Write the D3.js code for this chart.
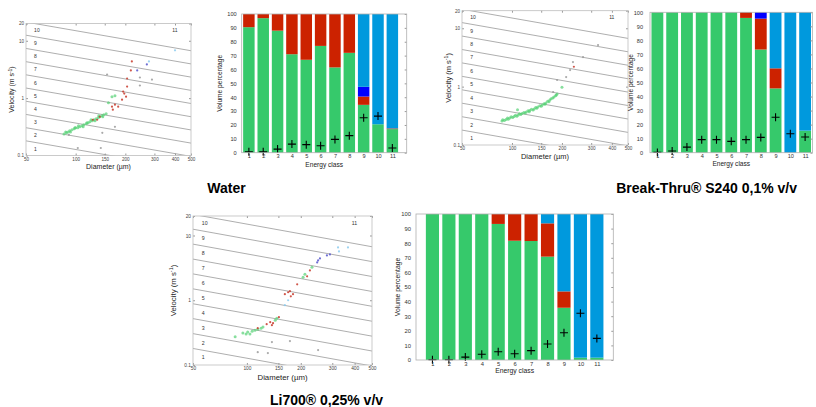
<!DOCTYPE html>
<html>
<head>
<meta charset="utf-8">
<script src="https://cdn.jsdelivr.net/npm/d3@7"></script>
<style>
  body { margin: 0; background: #fff; }
  svg { display: block; font-family: "Liberation Sans", Arial, sans-serif; }
</style>
</head>
<body>
<div id="chart"></div>
<script>

// ---------------- data ----------------
var energyClasses = [1, 2, 3, 4, 5, 6, 7, 8, 9, 10, 11];
var pctTicks = [0, 10, 20, 30, 40, 50, 60, 70, 80, 90, 100];
var diamTicks = [50, 100, 150, 200, 300, 400, 500];
var velTicks = [0.1, 1, 10, 20];

// energy class boundary lines: velocity at 50 µm, lines go as v ~ d^-0.5
var classBoundaryV = [0.18, 0.305, 0.52, 0.882, 1.5, 2.55, 4.32, 7.35, 12.5, 21.2];
var classLineExp = -0.5;
// where the class numbers sit (diameter, velocity)
var classLabelV = [0.13, 0.221, 0.376, 0.64, 1.09, 1.85, 3.13, 5.33, 9.05, 15.4];
var classLabelD = 56;
var class11Pos = [385, 15.3];

// Water - stacked volume percentage per energy class
var waterGreen     = [90.5, 97, 88, 71, 67, 77, 61.5, 72, 34.5, 20.5, 17];
var waterRed       = [9.5, 3, 12, 29, 33, 23, 38.5, 28, 6, 0, 0.5];
var waterBlue      = [0, 0, 0, 0, 0, 0, 0, 0, 7, 0, 0];
var waterLightBlue = [0, 0, 0, 0, 0, 0, 0, 0, 52.5, 79.5, 82.5];
var waterMark      = [0.7, 0.6, 2.6, 6.2, 5.8, 5, 9.6, 12.3, 25.2, 26.4, 3.4];

// Break-Thru S240 0,1%
var btGreen     = [100, 100, 100, 100, 100, 100, 96, 73.5, 45.8, 0, 15.7];
var btRed       = [0, 0, 0, 0, 0, 0, 4, 22, 14.3, 0, 0];
var btBlue      = [0, 0, 0, 0, 0, 0, 0, 4.5, 0, 0, 0];
var btLightBlue = [0, 0, 0, 0, 0, 0, 0, 0, 39.9, 100, 84.3];
var btMark      = [0.2, 1.2, 4, 9.3, 9.3, 8.1, 9.3, 10.9, 25.2, 13.5, 11.2];

// Li700 0,25%
var liGreen     = [100, 100, 100, 100, 93.2, 81.7, 81.5, 70.8, 35.8, 1.6, 1.6];
var liRed       = [0, 0, 0, 0, 6.8, 18.3, 18.5, 22.8, 11.2, 0, 0];
var liBlue      = [0, 0, 0, 0, 0, 0, 0, 0, 0, 0, 0];
var liLightBlue = [0, 0, 0, 0, 0, 0, 0, 6.4, 53, 98.4, 98.4];
var liMark      = [0.2, 0.2, 2, 3.9, 5.7, 4.3, 6.4, 11, 18.7, 32, 14.8];

// droplets: [diameter µm, velocity m/s, type]
var waterDrops = [
  [85,0.238,"g"],[87,0.258,"g"],[90,0.258,"g"],[92,0.269,"g"],[95,0.28,"g"],[98,0.292,"g"],
  [100,0.304,"g"],[103,0.304,"g"],[106,0.316,"g"],[109,0.329,"g"],[112,0.343,"g"],[116,0.357,"g"],
  [119,0.372,"g"],[122,0.387,"g"],[126,0.403,"g"],[129,0.42,"g"],[133,0.437,"g"],[137,0.455,"g"],
  [140,0.474,"g"],[144,0.493,"g"],[148,0.514,"g"],[153,0.535,"g"],[93,0.258,"g"],[99,0.304,"g"],
  [104,0.329,"g"],[111,0.316,"g"],[117,0.372,"g"],[124,0.42,"g"],[131,0.403,"g"],[138,0.493,"g"],
  [146,0.474,"g"],[88,0.248,"g"],[166,1.06,"g"],[173,1.1,"g"],[158,0.83,"g"],
  [140,0.474,"r"],[127,0.42,"r"],[135,0.42,"r"],[166,0.71,"r"],[173,0.77,"r"],[181,0.71,"r"],
  [168,0.63,"r"],[191,0.94,"r"],[194,1.3,"r"],[197,1.2,"r"],[202,1.06,"r"],[205,1.59,"r"],
  [205,2.2,"r"],[216,3.04,"r"],[219,4.37,"r"],
  [236,3.04,"b"],[270,3.87,"b"],[278,4.37,"c"],[400,6.81,"c"],
  [155,2.58,"k"],[173,0.316,"k"],[145,0.248,"k"],[142,0.135,"k"],[245,2.29,"k"],[290,2.11,"k"],
  [245,1.66,"k"],[91,0.229,"k"],[103,0.135,"k"]
];

var btDrops = [
  [87,0.258,"g"],[88,0.272,"g"],[90,0.262,"g"],[92,0.273,"g"],[94,0.29,"g"],[95,0.276,"g"],
  [97,0.29,"g"],[99,0.305,"g"],[101,0.296,"g"],[103,0.307,"g"],[105,0.322,"g"],[107,0.312,"g"],
  [109,0.326,"g"],[111,0.343,"g"],[113,0.332,"g"],[115,0.346,"g"],[118,0.362,"g"],[120,0.352,"g"],
  [122,0.367,"g"],[125,0.386,"g"],[127,0.372,"g"],[128,0.39,"g"],[131,0.41,"g"],[134,0.398,"g"],
  [136,0.413,"g"],[139,0.44,"g"],[141,0.425,"g"],[143,0.448,"g"],[147,0.47,"g"],[150,0.46,"g"],
  [152,0.484,"g"],[156,0.51,"g"],[158,0.5,"g"],[160,0.524,"g"],[164,0.56,"g"],[167,0.55,"g"],
  [169,0.59,"g"],[172,0.62,"g"],[176,0.64,"g"],[179,0.664,"g"],[183,0.7,"g"],[187,0.747,"g"],
  [185,0.72,"g"],[108,0.4,"g"],[200,0.98,"g"],
  [177,0.81,"k"],[187,1.3,"k"],[224,1.92,"k"],[236,2.19,"r"],[233,2.64,"k"],[268,3.21,"k"],
  [330,5.16,"k"],[212,1.46,"k"]
];

var liDrops = [
  [86,0.272,"g"],[95,0.311,"g"],[99,0.3,"g"],[101,0.322,"g"],[104,0.3,"g"],[107,0.333,"g"],
  [111,0.345,"g"],[115,0.358,"g"],[120,0.371,"g"],[123,0.385,"g"],[147,0.528,"g"],[144,0.492,"g"],
  [206,2.26,"g"],[211,2.51,"g"],[231,3.22,"g"],
  [115,0.371,"r"],[129,0.427,"r"],[135,0.459,"r"],[140,0.443,"r"],[138,0.412,"r"],[151,0.547,"r"],
  [163,1.24,"r"],[170,1.33,"r"],[176,1.15,"r"],[181,1.24,"r"],[174,1.38,"r"],[191,1.76,"r"],
  [217,2.34,"r"],[225,2.89,"r"],
  [247,3.84,"b"],[256,4.43,"b"],[250,4.12,"b"],[280,4.92,"b"],[291,5.1,"b"],
  [163,0.838,"c"],[170,1.0,"c"],[323,6.54,"c"],[367,6.54,"c"],[327,5.67,"c"],
  [138,0.226,"k"],[174,0.234,"k"],[250,0.17,"k"],[115,0.158,"k"],[131,0.153,"k"]
];

// ---------------- drawing ----------------
var width = 816, height = 407;

var svg = d3.select("#chart")
  .append("svg")
    .attr("width", width)
    .attr("height", height);

var dropColor = { g: "#55d275", r: "#c8392b", b: "#5555cc", c: "#8ccbef", k: "#9a9a9a" };
var barColor = { green: "#36c96b", red: "#cc2200", blue: "#0000ff", lightBlue: "#0099dd" };

function drawScatter(box, drops, fs) {
  var g = svg.append("g");
  var x = d3.scaleLog().domain([50, 500]).range([box.left, box.right]);
  var y = d3.scaleLog().domain([0.1, 20]).range([box.bottom, box.top]);

  g.append("clipPath").attr("id", "clip" + box.id)
    .append("rect")
      .attr("x", box.left).attr("y", box.top)
      .attr("width", box.right - box.left).attr("height", box.bottom - box.top);

  // energy class lines
  g.append("g").attr("clip-path", "url(#clip" + box.id + ")")
    .selectAll("path")
    .data(classBoundaryV)
    .enter()
    .append("path")
      .attr("d", function (v0) {
        return d3.line()([[x(50), y(v0)], [x(500), y(v0 * Math.pow(10, classLineExp))]]);
      })
      .attr("stroke", "#6a6a6a")
      .attr("stroke-width", 0.55)
      .attr("fill", "none");

  // class numbers
  g.selectAll(".cls")
    .data(classLabelV)
    .enter()
    .append("text")
      .attr("x", x(classLabelD))
      .attr("y", function (v) { return y(v); })
      .attr("dy", "0.35em")
      .style("font-size", fs.cls + "px")
      .attr("fill", "#333")
      .text(function (v, i) { return i + 1; });
  g.append("text")
    .attr("x", x(class11Pos[0]))
    .attr("y", y(class11Pos[1]))
    .attr("dy", "0.35em")
    .style("font-size", fs.cls + "px")
    .attr("fill", "#333")
    .text("11");

  // droplets
  g.append("g")
    .selectAll("circle")
    .data(drops)
    .enter()
    .append("circle")
      .attr("cx", function (d) { return x(d[0]); })
      .attr("cy", function (d) { return y(d[1]); })
      .attr("r", function (d) { return d[2] == "g" ? 1.5 : 1.1; })
      .attr("fill", function (d) { return dropColor[d[2]]; })
      .attr("opacity", function (d) { return d[2] == "g" ? 0.7 : 0.85; });

  // axes
  var xb = g.append("g")
    .attr("transform", "translate(0," + box.bottom + ")")
    .call(d3.axisBottom(x).tickValues(diamTicks).tickFormat(d3.format("d")).tickSize(-2).tickSizeOuter(0).tickPadding(2));
  var xt = g.append("g")
    .attr("transform", "translate(0," + box.top + ")")
    .call(d3.axisTop(x).tickValues(diamTicks).tickFormat("").tickSize(-2).tickSizeOuter(0));
  var yl = g.append("g")
    .attr("transform", "translate(" + box.left + ",0)")
    .call(d3.axisLeft(y).tickValues(velTicks).tickFormat(function (d) { return d; }).tickSize(-2).tickSizeOuter(0).tickPadding(2));
  var yr = g.append("g")
    .attr("transform", "translate(" + box.right + ",0)")
    .call(d3.axisRight(y).tickValues(velTicks).tickFormat("").tickSize(-2).tickSizeOuter(0));
  [xb, xt, yl, yr].forEach(function (a) {
    a.select(".domain").remove();
    a.selectAll("line").attr("stroke", "#999");
    a.selectAll("text").style("font-size", fs.tick + "px").attr("fill", "#444").style("font-family", "Liberation Sans, Arial, sans-serif");
  });

  g.append("rect")
    .attr("x", box.left).attr("y", box.top)
    .attr("width", box.right - box.left).attr("height", box.bottom - box.top)
    .attr("fill", "none")
    .attr("stroke", "#bdbdbd")
    .attr("stroke-width", 0.8);

  // axis titles
  var vt = g.append("text")
    .attr("transform", "translate(" + box.ylab + "," + (box.top + box.bottom) / 2 + ") rotate(-90)")
    .attr("text-anchor", "middle")
    .attr("dy", "0.35em")
    .style("font-size", fs.lab + "px")
    .attr("fill", "#222");
  vt.append("tspan").text("Velocity (m s");
  vt.append("tspan").attr("baseline-shift", "super").style("font-size", (fs.lab * 0.7) + "px").text("-1");
  vt.append("tspan").text(")");

  g.append("text")
    .attr("x", (box.left + box.right) / 2)
    .attr("y", box.xlab)
    .attr("text-anchor", "middle")
    .attr("dy", "0.35em")
    .style("font-size", fs.lab + "px")
    .attr("fill", "#222")
    .text("Diameter (\u00b5m)");
}

function drawBars(box, xlim, green, red, blue, lightBlue, marks, fs) {
  var g = svg.append("g");
  var rows = energyClasses.map(function (c, i) {
    return { cls: c, green: green[i], red: red[i], blue: blue[i], lightBlue: lightBlue[i] };
  });
  var series = d3.stack().keys(["green", "red", "blue", "lightBlue"])(rows);

  var x = d3.scaleLinear().domain(xlim).range([box.left, box.right]);
  var y = d3.scaleLinear().domain([0, 100]).range([box.bottom, box.top]);
  var bw = 0.8 * (x(1) - x(0));

  g.selectAll(".layer")
    .data(series)
    .enter()
    .append("g")
      .attr("fill", function (s) { return barColor[s.key]; })
    .selectAll("rect")
    .data(function (s) { return s; })
    .enter()
    .append("rect")
      .attr("x", function (d) { return x(d.data.cls) - bw / 2; })
      .attr("y", function (d) { return y(d[1]); })
      .attr("width", bw)
      .attr("height", function (d) { return Math.max(0, y(d[0]) - y(d[1])); });

  // median markers (+)
  g.selectAll(".mark")
    .data(marks)
    .enter()
    .append("path")
      .attr("transform", function (m, i) { return "translate(" + x(energyClasses[i]) + "," + y(m) + ")"; })
      .attr("d", "M-4,0H4M0,-4V4")
      .attr("stroke", "#000")
      .attr("stroke-width", 1.1);

  var yl = g.append("g")
    .attr("transform", "translate(" + box.left + ",0)")
    .call(d3.axisLeft(y).tickValues(pctTicks).tickSize(0).tickPadding(box.ypad));
  var yr = g.append("g")
    .attr("transform", "translate(" + box.right + ",0)")
    .call(d3.axisLeft(y).tickValues(pctTicks).tickFormat("").tickSize(2).tickSizeOuter(0));
  var xb = g.append("g")
    .attr("transform", "translate(0," + box.bottom + ")")
    .call(d3.axisBottom(x).tickValues(energyClasses).tickSize(0).tickPadding(1.5));
  [yl, yr, xb].forEach(function (a) {
    a.select(".domain").remove();
    a.selectAll("line").attr("stroke", "#999");
    a.selectAll("text").style("font-size", fs.tick + "px").attr("fill", "#333").style("font-family", "Liberation Sans, Arial, sans-serif");
  });

  g.append("rect")
    .attr("x", box.left).attr("y", box.top)
    .attr("width", box.right - box.left).attr("height", box.bottom - box.top)
    .attr("fill", "none")
    .attr("stroke", "#b0b0b0")
    .attr("stroke-width", 0.8);

  g.append("text")
    .attr("transform", "translate(" + box.ylab + "," + (box.top + box.bottom) / 2 + ") rotate(-90)")
    .attr("text-anchor", "middle")
    .attr("dy", "0.35em")
    .style("font-size", fs.lab + "px")
    .attr("fill", "#222")
    .text("Volume percentage");

  g.append("text")
    .attr("x", (box.left + box.right) / 2)
    .attr("y", box.xlab)
    .attr("text-anchor", "middle")
    .attr("dy", "0.35em")
    .style("font-size", fs.lab + "px")
    .attr("fill", "#222")
    .text("Energy class");
}

// top row
drawScatter({ id: 1, left: 26, right: 191, top: 23.5, bottom: 155.5, ylab: 12, xlab: 167 },
  waterDrops, { tick: 4.6, cls: 5, lab: 7 });
drawBars({ left: 241.7, right: 406.7, top: 14, bottom: 152.7, ypad: 5, ylab: 220, xlab: 164.5 },
  [0.5, 12], waterGreen, waterRed, waterBlue, waterLightBlue, waterMark, { tick: 5.6, lab: 6.6 });

drawScatter({ id: 3, left: 462, right: 628, top: 10.7, bottom: 145, ylab: 448, xlab: 156.5 },
  btDrops, { tick: 4.6, cls: 5, lab: 7.5 });
drawBars({ left: 650, right: 812.5, top: 12.3, bottom: 152.7, ypad: 7, ylab: 631, xlab: 164 },
  [0.5, 11.5], btGreen, btRed, btBlue, btLightBlue, btMark, { tick: 5.6, lab: 6.6 });

// bottom row
drawScatter({ id: 5, left: 193, right: 372, top: 216, bottom: 365, ylab: 173, xlab: 377 },
  liDrops, { tick: 4.8, cls: 5.2, lab: 7.8 });
drawBars({ left: 416, right: 613.3, top: 214, bottom: 360, ypad: 5, ylab: 398, xlab: 371 },
  [0, 12], liGreen, liRed, liBlue, liLightBlue, liMark, { tick: 5.8, lab: 6.8 });

// captions
svg.append("text").attr("x", 226.5).attr("y", 188).attr("dy", "0.35em").attr("text-anchor", "middle")
  .style("font-size", "14px").style("font-weight", "bold").text("Water");
svg.append("text").attr("x", 797).attr("y", 188).attr("dy", "0.35em").attr("text-anchor", "end")
  .style("font-size", "14px").style("font-weight", "bold").text("Break-Thru\u00ae S240 0,1% v/v");
svg.append("text").attr("x", 270).attr("y", 400).attr("dy", "0.35em").attr("text-anchor", "start")
  .style("font-size", "14px").style("font-weight", "bold").text("Li700\u00ae 0,25% v/v");

</script>
</body>
</html>
